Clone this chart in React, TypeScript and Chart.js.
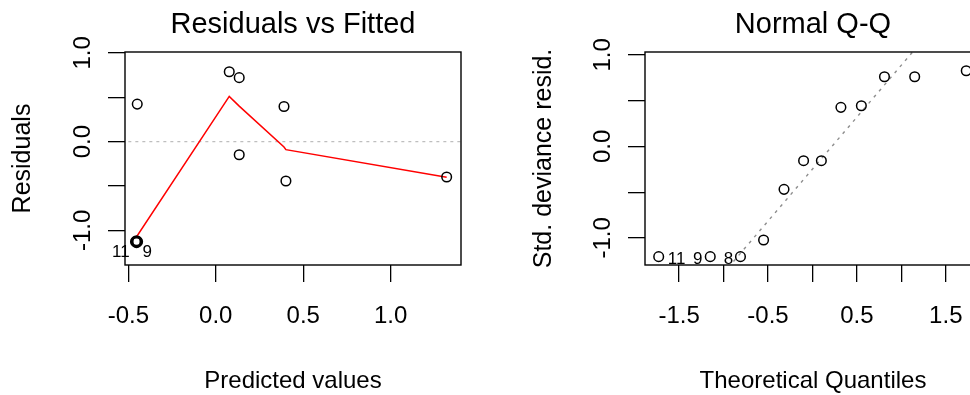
import { useEffect, useRef } from "react";
import { Chart, registerables } from "chart.js";

Chart.register(...registerables);

const FONT = "'Liberation Sans', Arial, Helvetica, sans-serif";

// ---------- Left panel: Residuals vs Fitted ----------
const fittedValues = [-0.449, 0.077, 0.134, 0.390, 0.134, 0.401, 1.320, -0.453, -0.459, -0.447, -0.453, -0.453];
const residualValues = [0.423, 0.788, 0.721, 0.396, -0.148, -0.443, -0.399, -1.127, -1.127, -1.127, -1.116, -1.138];
const lowessX = [-0.453, -0.449, 0.077, 0.134, 0.390, 0.401, 1.320];
const lowessY = [-1.07, -1.06, 0.51, 0.40, -0.06, -0.09, -0.40];
const zeroLineX = [-0.7, 1.6];
const zeroLineY = [0, 0];
const leftXTickValues = [-0.5, 0, 0.5, 1.0];
const leftXTickLabels = ["-0.5", "0.0", "0.5", "1.0"];
const leftYTickValues = [-1.0, -0.5, 0, 0.5, 1.0];
const leftYTickLabels = ["-1.0", "", "0.0", "", "1.0"];
const leftIdLabels = ["11", "9"];
const leftIdIndex = [7, 7];

// ---------- Right panel: Normal Q-Q ----------
const theoreticalQuantiles = [-1.73, -1.15, -0.81, -0.55, -0.32, -0.10, 0.10, 0.32, 0.55, 0.81, 1.15, 1.73];
const stdDevianceResid = [-1.205, -1.205, -1.205, -1.023, -0.469, -0.156, -0.156, 0.427, 0.445, 0.762, 0.762, 0.827];
const qqLineX = [-2.0, 2.0];
const qqLineY = [-2.52, 2.024];
const rightXTickValues = [-1.5, -1.0, -0.5, 0, 0.5, 1.0, 1.5];
const rightXTickLabels = ["-1.5", "", "-0.5", "", "0.5", "", "1.5"];
const rightYTickValues = [-1.0, -0.5, 0, 0.5, 1.0];
const rightYTickLabels = ["-1.0", "", "0.0", "", "1.0"];
const rightIdLabels = ["11", "9", "8"];
const rightIdIndex = [0, 1, 2];

// ---------- layout (pixels / styles) ----------
const LAYOUT = {
  canvasW: 485,
  canvasH: 395,
  yAxisW: 125,
  xAxisH: 130,
  padRight: 24,
  tickLen: 17,
  titleSize: 29,
  axisTitleSize: 24,
  tickSize: 24,
  idSize: 17,
  yTickBaselineGap: 35,
};

const toXY = (xs: number[], ys: number[]) => xs.map((x, i) => ({ x, y: ys[i] }));

type Spec = {
  title: string;
  xTitle: string;
  yTitle: string;
  xMin: number; xMax: number; yMin: number; yMax: number;
  xTicks: number[]; xLabels: string[];
  yTicks: number[]; yLabels: string[];
  datasets: any[];
  idLabels: string[]; idIndex: number[]; idOffsets: number[][];
  yTitlePad: number;
};

function framePlugin(spec: Spec) {
  return {
    id: "rFrame",
    afterDatasetsDraw(chart: any) {
      const { ctx, chartArea: a, scales } = chart;
      ctx.save();
      ctx.strokeStyle = "#000";
      ctx.lineWidth = 1.4;
      ctx.strokeRect(a.left, a.top, a.right - a.left, a.bottom - a.top);
      ctx.fillStyle = "#000";
      ctx.font = `${LAYOUT.tickSize}px ${FONT}`;
      ctx.textAlign = "center";
      ctx.textBaseline = "alphabetic";
      spec.yTicks.forEach((v, i) => {
        const lab = spec.yLabels[i];
        if (!lab) return;
        const py = scales.y.getPixelForValue(v);
        ctx.save();
        ctx.translate(a.left - LAYOUT.yTickBaselineGap, py);
        ctx.rotate(-Math.PI / 2);
        ctx.fillText(lab, 0, 0);
        ctx.restore();
      });
      ctx.font = `${LAYOUT.idSize}px ${FONT}`;
      const pts = spec.datasets[0].data;
      spec.idLabels.forEach((lab, i) => {
        const p = pts[spec.idIndex[i]];
        const px = scales.x.getPixelForValue(p.x) + spec.idOffsets[i][0];
        const py = scales.y.getPixelForValue(p.y) + spec.idOffsets[i][1];
        ctx.fillText(lab, px, py);
      });
      ctx.restore();
    },
  };
}

function buildConfig(spec: Spec): any {
  const gridOpts = {
    display: true,
    drawOnChartArea: false,
    drawTicks: true,
    tickLength: LAYOUT.tickLen,
    color: "#000",
    lineWidth: 1.3,
  };
  return {
    type: "scatter",
    data: { datasets: spec.datasets },
    options: {
      animation: false,
      responsive: false,
      events: [],
      layout: { padding: { left: 0, right: LAYOUT.padRight, top: 0, bottom: 0 } },
      plugins: {
        legend: { display: false },
        tooltip: { enabled: false },
        title: {
          display: true,
          text: spec.title,
          color: "#000",
          fullSize: false,
          font: { family: FONT, size: LAYOUT.titleSize, weight: "normal", lineHeight: 1.2 },
          padding: { top: 7.6, bottom: 9.6 },
        },
      },
      scales: {
        x: {
          type: "linear",
          min: spec.xMin,
          max: spec.xMax,
          afterBuildTicks: (s: any) => { s.ticks = spec.xTicks.map((v) => ({ value: v })); },
          afterFit: (s: any) => { s.height = LAYOUT.xAxisH; },
          ticks: {
            autoSkip: false,
            maxRotation: 0,
            minRotation: 0,
            padding: 20,
            color: "#000",
            font: { family: FONT, size: LAYOUT.tickSize },
            callback: (v: number) => {
              const i = spec.xTicks.indexOf(v);
              return i >= 0 ? spec.xLabels[i] : "";
            },
          },
          grid: gridOpts,
          border: { display: false },
          title: {
            display: true,
            text: spec.xTitle,
            color: "#000",
            font: { family: FONT, size: LAYOUT.axisTitleSize, lineHeight: 1 },
            padding: { top: 0, bottom: 1.5 },
          },
        },
        y: {
          type: "linear",
          min: spec.yMin,
          max: spec.yMax,
          afterBuildTicks: (s: any) => { s.ticks = spec.yTicks.map((v) => ({ value: v })); },
          afterFit: (s: any) => { s.width = LAYOUT.yAxisW; },
          ticks: { display: false },
          grid: gridOpts,
          border: { display: false },
          title: {
            display: true,
            text: spec.yTitle,
            color: "#000",
            font: { family: FONT, size: 25, lineHeight: 1 },
            padding: { top: spec.yTitlePad, bottom: 0 },
          },
        },
      },
    },
    plugins: [framePlugin(spec)],
  };
}

const pointStyle = {
  showLine: false,
  pointRadius: 4.8,
  pointHoverRadius: 4.8,
  pointBorderWidth: 1.5,
  borderColor: "#000",
  backgroundColor: "rgba(0,0,0,0)",
  pointBackgroundColor: "rgba(0,0,0,0)",
};

const leftSpec: Spec = {
  title: "Residuals vs Fitted",
  xTitle: "Predicted values",
  yTitle: "Residuals",
  xMin: -0.519, xMax: 1.402, yMin: -1.39, yMax: 1.01,
  xTicks: leftXTickValues, xLabels: leftXTickLabels,
  yTicks: leftYTickValues, yLabels: leftYTickLabels,
  datasets: [
    { label: "Residuals", data: toXY(fittedValues, residualValues), ...pointStyle },
    { label: "lowess", data: toXY(lowessX, lowessY), showLine: true, pointRadius: 0, borderColor: "#FF0000", borderWidth: 1.5, tension: 0 },
    { label: "zero", data: toXY(zeroLineX, zeroLineY), showLine: true, pointRadius: 0, borderColor: "#BEBEBE", borderWidth: 1.4, borderDash: [3, 4] },
  ],
  idLabels: leftIdLabels, idIndex: leftIdIndex,
  idOffsets: [[-15.7, 15.3], [10.8, 15.3]],
  yTitlePad: 10.5,
};

const rightSpec: Spec = {
  title: "Normal Q-Q",
  xTitle: "Theoretical Quantiles",
  yTitle: "Std. deviance resid.",
  xMin: -1.884, xMax: 1.896, yMin: -1.296, yMax: 1.032,
  xTicks: rightXTickValues, xLabels: rightXTickLabels,
  yTicks: rightYTickValues, yLabels: rightYTickLabels,
  datasets: [
    { label: "Std. deviance resid.", data: toXY(theoreticalQuantiles, stdDevianceResid), ...pointStyle },
    { label: "qqline", data: toXY(qqLineX, qqLineY), showLine: true, pointRadius: 0, borderColor: "#8E8E8E", borderWidth: 1.4, borderDash: [3, 5] },
  ],
  idLabels: rightIdLabels, idIndex: rightIdIndex,
  idOffsets: [[18, 7.5], [-12.5, 7.5], [-12, 7.5]],
  yTitlePad: 12,
};

export default function App() {
  const leftRef = useRef<HTMLCanvasElement>(null);
  const rightRef = useRef<HTMLCanvasElement>(null);
  useEffect(() => {
    const c1 = new Chart(leftRef.current as HTMLCanvasElement, buildConfig(leftSpec));
    const c2 = new Chart(rightRef.current as HTMLCanvasElement, buildConfig(rightSpec));
    return () => {
      c1.destroy();
      c2.destroy();
    };
  }, []);
  return (
    <div style={{ position: "fixed", left: 0, top: 0, width: 970, height: 395, overflow: "hidden", background: "#fff" }}>
      <canvas ref={leftRef} width={LAYOUT.canvasW} height={LAYOUT.canvasH} style={{ position: "absolute", left: 0, top: 0 }} />
      <canvas ref={rightRef} width={LAYOUT.canvasW} height={LAYOUT.canvasH} style={{ position: "absolute", left: 520, top: 0 }} />
    </div>
  );
}
